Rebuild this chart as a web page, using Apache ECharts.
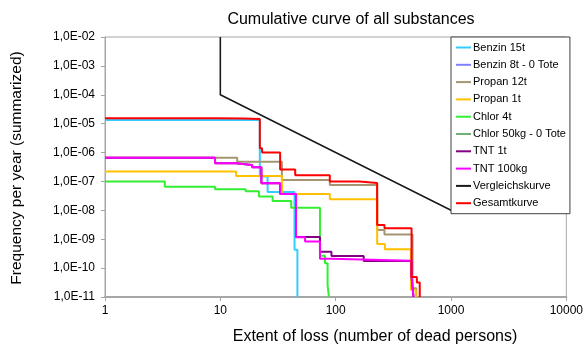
<!DOCTYPE html>
<html>
<head>
<meta charset="utf-8">
<script src="https://cdn.jsdelivr.net/npm/echarts@6/dist/echarts.min.js"></script>
<style>
  html, body { margin: 0; padding: 0; background: #fff; }
  #chart { width: 586px; height: 347px; }
</style>
</head>
<body>
<div id="chart"></div>
<script>
// tick labels
var xTickLabels = ['1', '10', '100', '1000', '10000'];
var yTickLabels = ['1,0E-11', '1,0E-10', '1,0E-09', '1,0E-08', '1,0E-07', '1,0E-06', '1,0E-05', '1,0E-04', '1,0E-03', '1,0E-02'];

// step curves: x where a level starts, y = frequency from there on
var benzin15X = [1, 22, 25.7, 44, 46.6];
var benzin15Y = [1.35e-5, 1.47e-7, 4.3e-8, 4.3e-10, 1e-11];

var benzin8X = [];
var benzin8Y = [];

var propan12X = [1, 14, 34.2, 89, 229, 265, 464, 500];
var propan12Y = [6.65e-7, 4.84e-7, 1.13e-7, 7.6e-8, 2.1e-9, 1.47e-9, 2.0e-11, 1e-11];

var propan1X = [1, 13.7, 34.2, 89, 229, 267, 449, 495];
var propan1Y = [2.2e-7, 1.55e-7, 3.7e-8, 2.4e-8, 6.9e-10, 4.5e-10, 1.8e-11, 1e-11];

var chlor4X = [1, 3.3, 9, 16.6, 21.6, 28.4, 41.2, 73.1, 80.7, 85.1, 87.4];
var chlor4Y = [1.0e-7, 6.6e-8, 5.4e-8, 4.6e-8, 3.0e-8, 2.1e-8, 1.24e-8, 2.7e-10, 1.48e-10, 2.6e-11, 1e-11];

var chlor50X = [];
var chlor50Y = [];

var tnt1X = [1, 9, 13.6, 18.9, 22.7, 33, 45.3, 73.1, 92, 175, 455, 473];
var tnt1Y = [6.6e-7, 4.3e-7, 3.7e-7, 3.1e-7, 8.7e-8, 3.7e-8, 1.2e-9, 3.7e-10, 2.6e-10, 1.75e-10, 5e-11, 1e-11];

var tnt100X = [1, 9, 13.6, 18.9, 22.7, 33, 45.3, 54.3, 73.1, 92, 455, 473];
var tnt100Y = [6.6e-7, 4.3e-7, 3.7e-7, 3.1e-7, 8.7e-8, 3.7e-8, 1.17e-9, 8.3e-10, 2.1e-10, 1.8e-10, 5e-11, 1e-11];

var vergleichX = [10, 10, 1000, 10000];
var vergleichY = [1e-2, 1e-4, 1e-8, 1e-8];

var gesamtX = [1, 9, 16, 22, 23, 33, 44.6, 89, 161, 229, 265, 455, 506, 536];
var gesamtY = [1.55e-5, 1.5e-5, 1.45e-5, 1.4e-6, 1.0e-6, 2.6e-7, 1.65e-7, 1.0e-7, 8.8e-8, 3.1e-9, 2.4e-9, 4.9e-11, 3.2e-11, 1e-11];

function pairs(xs, ys) {
  return xs.map(function (x, i) { return [x, ys[i]]; });
}

function stepLine(name, color, xs, ys, width) {
  return {
    name: name,
    type: 'line',
    step: 'end',
    data: pairs(xs, ys),
    showSymbol: false,
    symbol: 'none',
    color: color,
    lineStyle: { color: color, width: width || 2 },
    animation: false
  };
}

var myChart = echarts.init(document.getElementById('chart'));
var option = {
  backgroundColor: '#fff',
  textStyle: { fontFamily: 'Liberation Sans, Arial, sans-serif' },
  title: {
    text: 'Cumulative curve of all substances',
    left: 346,
    top: 7,
    textAlign: 'center',
    textStyle: { fontSize: 16, fontWeight: 'normal', color: '#000' }
  },
  legend: {
    orient: 'vertical',
    left: 451,
    top: 37,
    padding: [5, 4, 5, 5],
    itemGap: 6.3,
    itemWidth: 15,
    itemHeight: 2,
    icon: 'rect',
    backgroundColor: '#fff',
    borderColor: '#404040',
    borderWidth: 1,
    borderRadius: 0,
    textStyle: { fontSize: 11, color: '#000', padding: [0, 0, 0, -3] }
  },
  grid: {
    left: 105, right: 16, top: 37, bottom: 50,
    show: true, borderColor: '#a6a6a6', borderWidth: 1, backgroundColor: '#fff'
  },
  xAxis: {
    type: 'log',
    logBase: 10,
    min: 1,
    max: 10000,
    axisLine: { lineStyle: { color: '#a6a6a6', width: 2 } },
    axisTick: { show: true, inside: false, length: 4, lineStyle: { color: '#a6a6a6' } },
    axisLabel: {
      margin: 8, fontSize: 12, color: '#000',
      formatter: function (v) { return xTickLabels[Math.round(Math.log10(v))]; }
    },
    splitLine: { show: false },
    minorTick: { show: false }
  },
  yAxis: {
    type: 'log',
    logBase: 10,
    min: 1e-11,
    max: 1e-2,
    splitNumber: 9,
    axisLine: { show: true, lineStyle: { color: '#a6a6a6', width: 1 } },
    axisTick: { show: true, inside: false, length: 4, lineStyle: { color: '#a6a6a6' } },
    axisLabel: {
      margin: 10, fontSize: 12, color: '#000',
      formatter: function (v) { return yTickLabels[Math.round(Math.log10(v)) + 11]; }
    },
    splitLine: { show: false }
  },
  graphic: [
    {
      type: 'text', x: 17, y: 168, rotation: Math.PI / 2,
      style: { text: 'Frequency per year (summarized)', fontSize: 15.5, fill: '#000',
        align: 'center', verticalAlign: 'middle', fontFamily: 'Liberation Sans, Arial, sans-serif' }
    },
    {
      type: 'text', x: 375, y: 337,
      style: { text: 'Extent of loss (number of dead persons)', fontSize: 16, fill: '#000',
        align: 'center', verticalAlign: 'middle', fontFamily: 'Liberation Sans, Arial, sans-serif' }
    }
  ],
  series: [
    stepLine('Benzin 15t', '#33ccff', benzin15X, benzin15Y),
    stepLine('Benzin 8t - 0 Tote', '#8080ff', benzin8X, benzin8Y),
    stepLine('Propan 12t', '#a39670', propan12X, propan12Y),
    stepLine('Propan 1t', '#ffc000', propan1X, propan1Y),
    stepLine('Chlor 4t', '#33ee33', chlor4X, chlor4Y),
    stepLine('Chlor 50kg - 0 Tote', '#70b070', chlor50X, chlor50Y),
    stepLine('TNT 1t', '#800080', tnt1X, tnt1Y),
    stepLine('TNT 100kg', '#ff00ff', tnt100X, tnt100Y),
    {
      name: 'Vergleichskurve',
      type: 'line',
      data: pairs(vergleichX, vergleichY),
      showSymbol: false,
      symbol: 'none',
      color: '#1a1a1a',
      lineStyle: { color: '#1a1a1a', width: 1.6 },
      animation: false
    },
    stepLine('Gesamtkurve', '#ff0000', gesamtX, gesamtY)
  ]
};
myChart.setOption(option, true);
</script>
</body>
</html>
